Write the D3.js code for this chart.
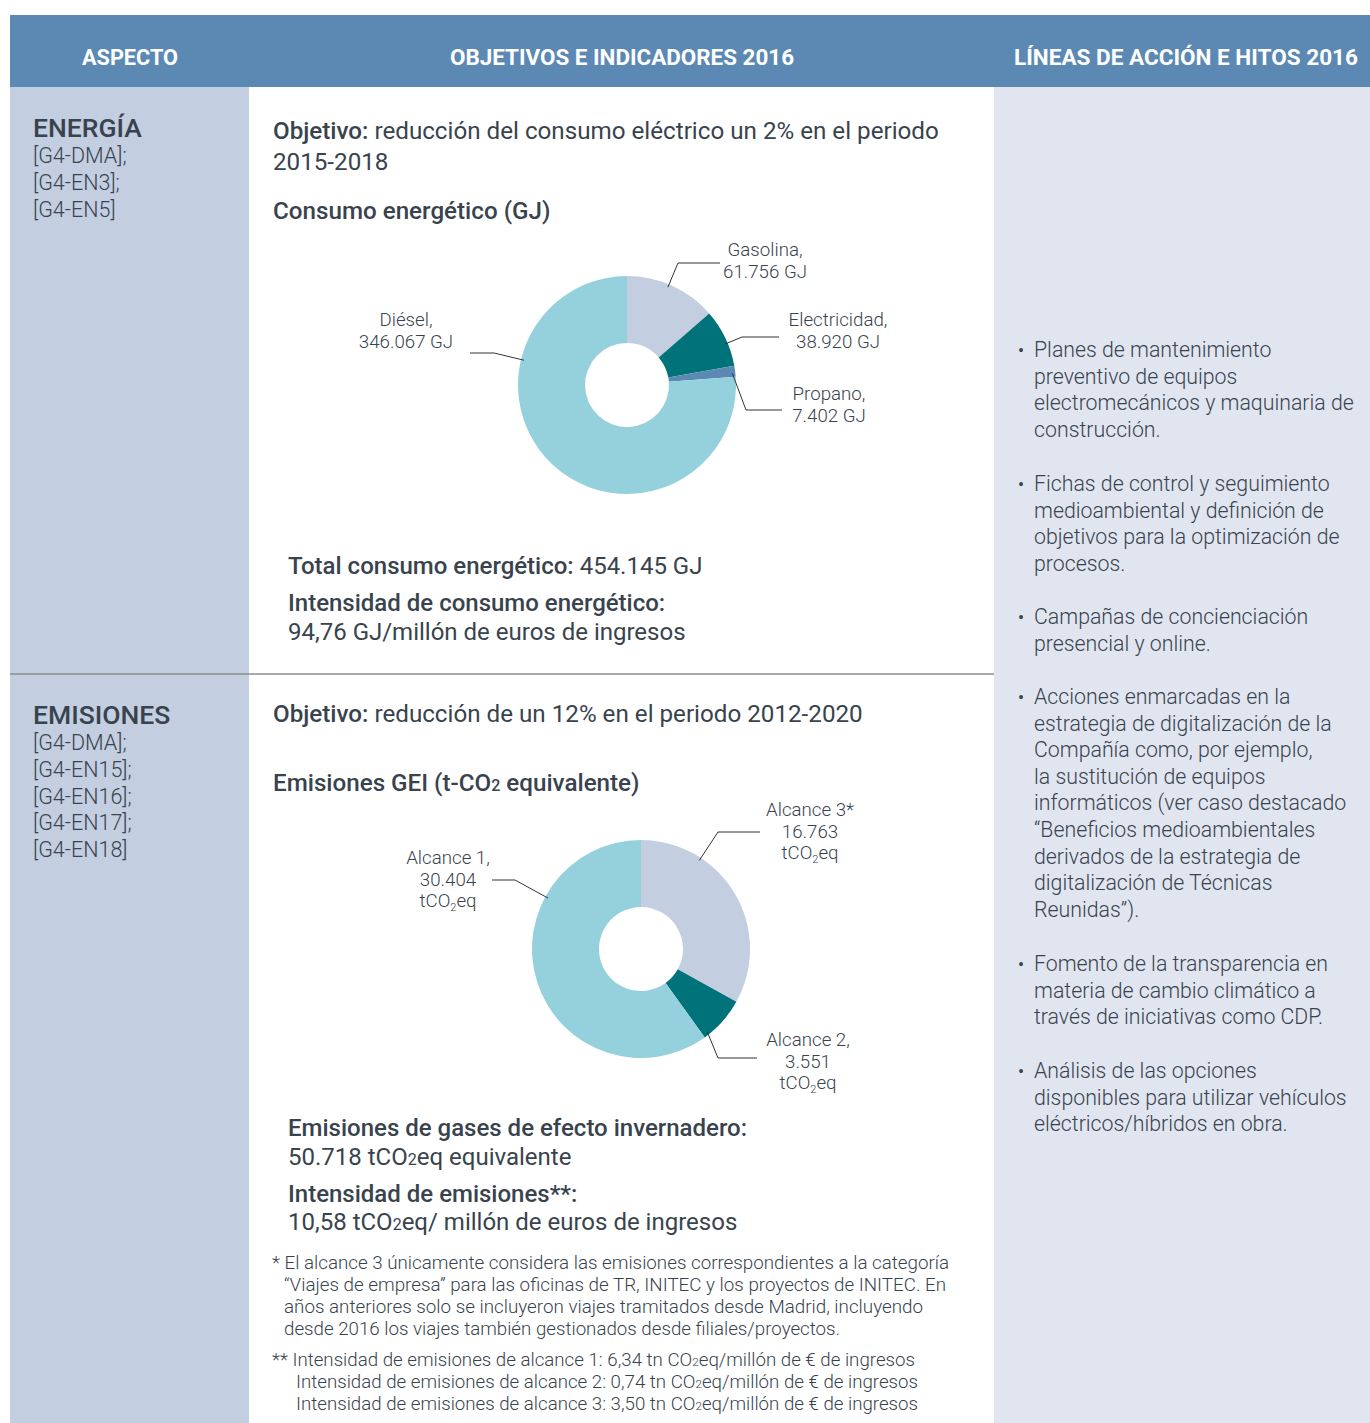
<!DOCTYPE html>
<html>
<head>
<meta charset="utf-8">
<script src="https://cdn.jsdelivr.net/npm/d3@7"></script>
<style>
  body { margin: 0; background: #fff; }
  svg { display: block; font-family: Roboto, "Noto Sans", sans-serif; }
</style>
</head>
<body>
<script>
// energy pie
const energyCats = ["Gasolina", "Electricidad", "Propano", "Diésel"];
const energyVals = [61756, 38920, 7402, 346067];
const energyLbls = ["61.756 GJ", "38.920 GJ", "7.402 GJ", "346.067 GJ"];
const energyColors = ["#c3cee0", "#00737a", "#5b89b3", "#95d1dc"];

// emissions pie
const emisCats = ["Alcance 3*", "Alcance 2,", "Alcance 1,"];
const emisVals = [16763, 3551, 30404];
const emisLbls = ["16.763", "3.551", "30.404"];
const emisColors = ["#c3cee0", "#00737a", "#95d1dc"];

const headers = ["ASPECTO", "OBJETIVOS E INDICADORES 2016", "LÍNEAS DE ACCIÓN E HITOS 2016"];

const bullets = [
  ["Planes de mantenimiento", "preventivo de equipos", "electromecánicos y maquinaria de", "construcción."],
  ["Fichas de control y seguimiento", "medioambiental y definición de", "objetivos para la optimización de", "procesos."],
  ["Campañas de concienciación", "presencial y online."],
  ["Acciones enmarcadas en la", "estrategia de digitalización de la", "Compañía como, por ejemplo,", "la sustitución de equipos",
   "informáticos (ver caso destacado", "“Beneficios medioambientales", "derivados de la estrategia de",
   "digitalización de Técnicas", "Reunidas”)."],
  ["Fomento de la transparencia en", "materia de cambio climático a", "través de iniciativas como CDP."],
  ["Análisis de las opciones", "disponibles para utilizar vehículos", "eléctricos/híbridos en obra."]
];
const bulletTops = [357, 491, 624, 704, 971, 1078];

const W = 1370, H = 1423;
const ink = "#38434e";
const colL = 10, colM = 249, colR = 994;

const svg = d3.select("body").append("svg")
  .attr("width", W)
  .attr("height", H);

// backgrounds
svg.append("rect").attr("x", colL).attr("y", 87).attr("width", colM - colL).attr("height", H - 87).attr("fill", "#c3cee0");
svg.append("rect").attr("x", colR).attr("y", 87).attr("width", W - colR).attr("height", H - 87).attr("fill", "#e1e5f0");
svg.append("rect").attr("x", colL).attr("y", 15).attr("width", W - colL).attr("height", 72).attr("fill", "#5b89b3");

// header labels
const hdrX = [130, 622, 1186], hdrLen = [96, 344, 344];
svg.selectAll(".hdr").data(headers).enter().append("text")
  .attr("class", "hdr")
  .attr("x", (d, i) => hdrX[i])
  .attr("y", 65)
  .attr("text-anchor", "middle")
  .attr("textLength", (d, i) => hdrLen[i])
  .attr("lengthAdjust", "spacingAndGlyphs")
  .style("font-size", "22px")
  .style("font-weight", 700)
  .attr("fill", "#fff")
  .text(d => d);

// separator
svg.append("line")
  .attr("x1", colL).attr("x2", colR)
  .attr("y1", 674).attr("y2", 674)
  .attr("stroke", "#8c8c8c").attr("stroke-width", 1.5);

// left column
function aspect(title, codes, y) {
  svg.append("text").attr("x", 33).attr("y", y)
    .style("font-size", "26.5px").style("font-weight", 500).attr("fill", ink).text(title);
  codes.forEach((c, i) => {
    svg.append("text").attr("x", 33).attr("y", y + 26 + i * 26.8)
      .style("font-size", "21.5px").style("font-weight", 300).attr("fill", ink).text(c);
  });
}
aspect("ENERGÍA", ["[G4-DMA];", "[G4-EN3];", "[G4-EN5]"], 137);
aspect("EMISIONES", ["[G4-DMA];", "[G4-EN15];", "[G4-EN16];", "[G4-EN17];", "[G4-EN18]"], 724);

// mixed-weight text helper: parts = [[text, weight, size?]]
function rich(x, y, size, parts) {
  const t = svg.append("text").attr("x", x).attr("y", y)
    .style("font-size", size + "px").attr("fill", ink);
  parts.forEach(p => {
    t.append("tspan").style("font-weight", p[1]).style("font-size", p[2] ? p[2] + "px" : null).text(p[0]);
  });
  return t;
}

rich(273, 139, 24.2, [["Objetivo:", 500], [" reducción del consumo eléctrico un 2% en el periodo", 400]]);
rich(273, 170, 24.2, [["2015-2018", 400]]);
rich(273, 219, 24.2, [["Consumo energético (GJ)", 500]]);

rich(288, 574, 24, [["Total consumo energético:", 500], [" 454.145 GJ", 400]]);
rich(288, 611, 24, [["Intensidad de consumo energético:", 500]]);
rich(288, 640, 24, [["94,76 GJ/millón de euros de ingresos", 400]]);

rich(273, 722, 24.2, [["Objetivo:", 500], [" reducción de un 12% en el periodo 2012-2020", 400]]);
rich(273, 791, 24.2, [["Emisiones GEI (t-CO", 500], ["2", 500, 16], [" equivalente)", 500]]);

rich(288, 1136, 24, [["Emisiones de gases de efecto invernadero:", 500]]);
rich(288, 1165, 24, [["50.718 tCO", 400], ["2", 400, 16], ["eq equivalente", 400]]);
rich(288, 1202, 24, [["Intensidad de emisiones**:", 500]]);
rich(288, 1230, 24, [["10,58 tCO", 400], ["2", 400, 16], ["eq/ millón de euros de ingresos", 400]]);

// footnotes
const fn = [
  [272, 1269, [["* El alcance 3 únicamente considera las emisiones correspondientes a la categoría"]]],
  [284, 1291, [["“Viajes de empresa” para las oficinas de TR, INITEC y los proyectos de INITEC. En"]]],
  [284, 1313, [["años anteriores solo se incluyeron viajes tramitados desde Madrid, incluyendo"]]],
  [284, 1335, [["desde 2016 los viajes también gestionados desde filiales/proyectos."]]],
  [272, 1366, [["** Intensidad de emisiones de alcance 1: 6,34 tn CO"], ["2", 11], ["eq/millón de € de ingresos"]]],
  [296, 1388, [["Intensidad de emisiones de alcance 2: 0,74 tn CO"], ["2", 11], ["eq/millón de € de ingresos"]]],
  [296, 1410, [["Intensidad de emisiones de alcance 3: 3,50 tn CO"], ["2", 11], ["eq/millón de € de ingresos"]]]
];
const fnLen = [677, 662, 639, 556, 643, 622, 622];
fn.forEach((f, i) => {
  const t = svg.append("text").attr("x", f[0]).attr("y", f[1])
    .style("font-size", "17.5px").style("font-weight", 300).attr("fill", ink)
    .attr("textLength", fnLen[i]).attr("lengthAdjust", "spacingAndGlyphs");
  f[2].forEach(p => t.append("tspan").style("font-size", p[1] ? p[1] + "px" : null).text(p[0]));
});

// right column bullets
bullets.forEach((b, i) => {
  svg.append("text").attr("x", 1018).attr("y", bulletTops[i])
    .style("font-size", "18px").attr("fill", ink).text("•");
  b.forEach((line, j) => {
    svg.append("text").attr("x", 1034).attr("y", bulletTops[i] + j * 26.6)
      .style("font-size", "21.3px").style("font-weight", 300).attr("fill", ink).text(line);
  });
});

// donut helper
function donut(cx, cy, cats, vals, colors, layout, labelLines) {
  const pie = d3.pie().sort(null).value(d => d.v);
  const arc = d3.arc().innerRadius(42).outerRadius(109);
  const data = pie(cats.map((c, i) => ({ c: c, v: vals[i], col: colors[i], i: i })));
  const g = svg.append("g").attr("transform", `translate(${cx},${cy})`);
  g.selectAll("path").data(data).enter().append("path")
    .attr("d", arc)
    .attr("fill", d => d.data.col);

  data.forEach(d => {
    const L = layout[d.data.i];
    // anchor on the rim, aimed at the elbow, kept inside the slice
    let a = Math.atan2(L.ex - cx, -(L.ey - cy));
    if (a < 0) a += 2 * Math.PI;
    const pad = Math.min(0.05, (d.endAngle - d.startAngle) / 3);
    a = Math.max(d.startAngle + pad, Math.min(d.endAngle - pad, a));
    const r = 106;
    const sx = cx + r * Math.sin(a), sy = cy - r * Math.cos(a);
    svg.append("polyline")
      .attr("points", `${sx},${sy} ${L.ex},${L.ey} ${L.hx},${L.ey}`)
      .attr("fill", "none").attr("stroke", "#333").attr("stroke-width", 1);
    labelLines(d.data.i).forEach((ln, j) => {
      const t = svg.append("text").attr("x", L.tx).attr("y", L.ty + j * 21.5)
        .attr("text-anchor", "middle")
        .style("font-size", "18.7px").style("font-weight", 300).attr("fill", ink);
      ln.forEach(p => {
        const s = t.append("tspan").text(p[0]);
        if (p[1]) s.style("font-size", "11px").attr("dy", 4);
        if (p[2]) s.attr("dy", -4);
      });
    });
  });
}

donut(627, 385, energyCats, energyVals, energyColors, [
  { tx: 765, ty: 256, ex: 678, ey: 263, hx: 720 },
  { tx: 838, ty: 326, ex: 742, ey: 337, hx: 779 },
  { tx: 829, ty: 400, ex: 746, ey: 410, hx: 782 },
  { tx: 406, ty: 326, ex: 494, ey: 353, hx: 470 }
], i => [[[energyCats[i] + ","]], [[energyLbls[i]]]]);

donut(641, 949, emisCats, emisVals, emisColors, [
  { tx: 810, ty: 816, ex: 718, ey: 832, hx: 760 },
  { tx: 808, ty: 1046, ex: 718, ey: 1058, hx: 757 },
  { tx: 448, ty: 864, ex: 515, ey: 880, hx: 492 }
], i => [[[emisCats[i]]], [[emisLbls[i]]], [["tCO"], ["2", true], ["eq", false, true]]]);
</script>
</body>
</html>
